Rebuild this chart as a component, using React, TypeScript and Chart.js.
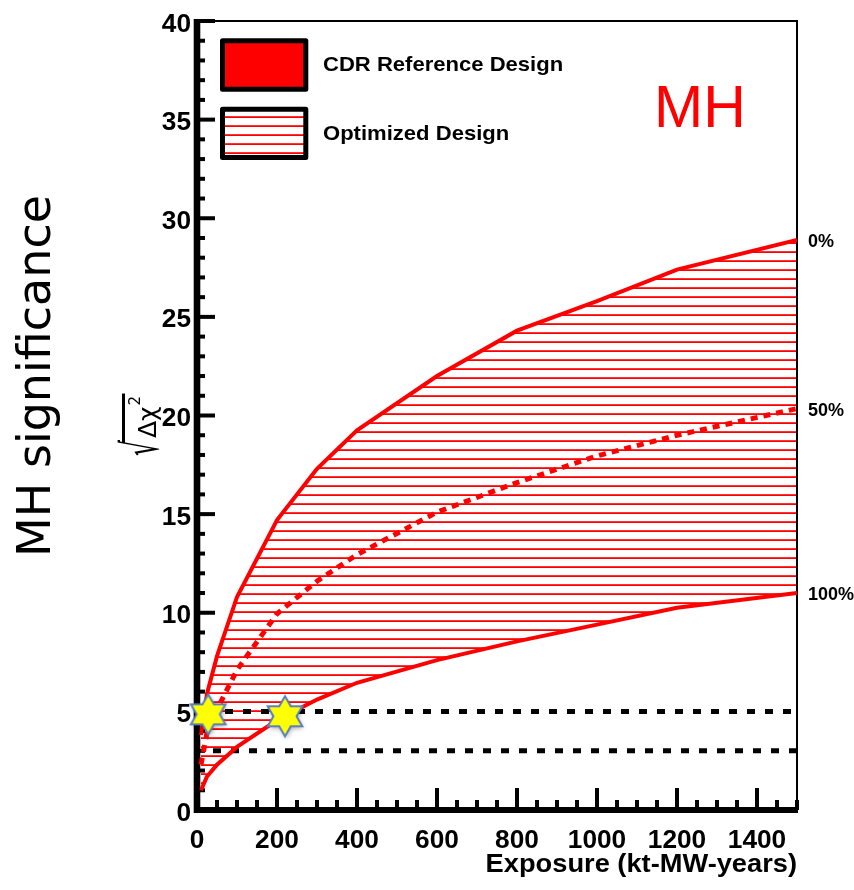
import React, { useEffect, useRef } from "react";
import { Chart, registerables } from "chart.js";

Chart.register(...registerables);

// ---- data ----
const exposure = [10, 25, 50, 100, 200, 300, 400, 600, 800, 1000, 1200, 1500];
const sig0 = [3.8, 5.9, 7.8, 10.8, 14.7, 17.3, 19.25, 22.0, 24.3, 25.8, 27.4, 28.9];
const sig50 = [2.3, 3.9, 5.1, 7.1, 9.95, 11.6, 12.95, 15.1, 16.6, 17.95, 19.0, 20.35];
const sig100 = [1.0, 1.7, 2.3, 3.2, 4.55, 5.6, 6.45, 7.6, 8.55, 9.4, 10.25, 11.0];
const curveLabels = ["0%", "50%", "100%"];

const refLevels = [5, 3];
const refStart = [25, 40];
const refEnd = [1500, 1500];

const starX = [28, 220];
const starY = [4.85, 4.75];

const xTicks = [0, 200, 400, 600, 800, 1000, 1200, 1400];
const yTicks = [0, 5, 10, 15, 20, 25, 30, 35, 40];
const legendLabels = ["CDR Reference Design", "Optimized Design"];

const RED = "#ff0000";

function makeHatch(): CanvasPattern {
  const c = document.createElement("canvas");
  c.width = 9;
  c.height = 9;
  const g = c.getContext("2d")!;
  g.fillStyle = RED;
  g.fillRect(0, 0, 9, 1);
  g.fillRect(0, 8, 9, 0.8);
  return g.createPattern(c, "repeat")!;
}

function makeStar(): HTMLCanvasElement {
  const c = document.createElement("canvas");
  c.width = 54;
  c.height = 54;
  const g = c.getContext("2d")!;
  const cx = 27, cy = 27, R = 20, r = R / Math.sqrt(3);
  g.beginPath();
  for (let i = 0; i < 12; i++) {
    const a = -Math.PI / 2 + (i * Math.PI) / 6;
    const rad = i % 2 === 0 ? R : r;
    const px = cx + rad * Math.cos(a);
    const py = cy + rad * Math.sin(a);
    if (i === 0) g.moveTo(px, py);
    else g.lineTo(px, py);
  }
  g.closePath();
  g.save();
  g.shadowColor = "rgba(0,0,0,0.35)";
  g.shadowBlur = 5;
  g.shadowOffsetX = 1;
  g.shadowOffsetY = 2;
  g.fillStyle = "#ffff00";
  g.fill();
  g.restore();
  g.lineWidth = 2;
  g.lineJoin = "miter";
  g.strokeStyle = "#5a7fbf";
  g.stroke();
  return c;
}

function txt(
  ctx: CanvasRenderingContext2D,
  s: string,
  x: number,
  y: number,
  font: string,
  align: CanvasTextAlign,
  color = "#000",
  sx = 1
) {
  ctx.save();
  ctx.translate(x, y);
  ctx.scale(sx, 1);
  ctx.font = font;
  ctx.textAlign = align;
  ctx.textBaseline = "alphabetic";
  ctx.fillStyle = color;
  ctx.fillText(s, 0, 0);
  ctx.restore();
}

export default function App() {
  const ref = useRef<HTMLCanvasElement>(null);

  useEffect(() => {
    const hatch = makeHatch();
    const star = makeStar();
    const BOLD = '"Liberation Sans", Arial, Helvetica, sans-serif';

    const decor = {
      id: "decor",
      beforeDatasetsDraw(chart: any) {
        const ctx: CanvasRenderingContext2D = chart.ctx;
        const xs = chart.scales.x;
        const ys = chart.scales.y;
        const x0 = xs.getPixelForValue(0);
        const x1 = xs.getPixelForValue(1500);
        const y0 = ys.getPixelForValue(0);
        const y1 = ys.getPixelForValue(40);
        ctx.save();
        // thin frame top/right
        ctx.strokeStyle = "#000";
        ctx.lineWidth = 2;
        ctx.beginPath();
        ctx.moveTo(x0, y1);
        ctx.lineTo(x1, y1);
        ctx.lineTo(x1, y0);
        ctx.stroke();
        ctx.fillStyle = "#000";
        // thick axes
        ctx.fillRect(x0 - 3.3, y1 - 2, 6.6, y0 - y1 + 5);
        ctx.fillRect(x0 - 3, y0 - 3, x1 - x0 + 4, 6);
        // y ticks
        for (let v = 1; v <= 40; v++) {
          const y = ys.getPixelForValue(v);
          const major = v % 5 === 0;
          ctx.fillRect(x0, y - 2, major ? 18 : 8, 4);
        }
        // x ticks
        for (let v = 50; v <= 1500; v += 50) {
          const x = xs.getPixelForValue(v);
          const major = v % 200 === 0;
          const len = major ? 22 : 10;
          ctx.fillRect(x - 2, y0 - len, 4, len);
        }
        // tick labels
        yTicks.forEach((v) => {
          txt(ctx, String(v), 191, ys.getPixelForValue(v) + 10.5, `bold 25px ${BOLD}`, "right", "#000", 1.05);
        });
        xTicks.forEach((v) => {
          txt(ctx, String(v), xs.getPixelForValue(v), 848, `bold 25px ${BOLD}`, "center", "#000", 1.05);
        });
        // x title
        txt(ctx, "Exposure (kt-MW-years)", 797, 872, `bold 25px ${BOLD}`, "right", "#000", 1.09);

        // right labels
        const ends = [sig0, sig50, sig100];
        ends.forEach((arr, i) => {
          const yy = ys.getPixelForValue(arr[arr.length - 1]);
          txt(ctx, curveLabels[i], 808, yy + 7, `bold 18px ${BOLD}`, "left");
        });

        // legend boxes
        ctx.lineJoin = "round";
        ctx.lineWidth = 5;
        ctx.fillStyle = RED;
        ctx.fillRect(222.5, 40.8, 83.3, 48.4);
        ctx.strokeStyle = "#000";
        ctx.strokeRect(222.5, 40.8, 83.3, 48.4);
        ctx.fillStyle = hatch;
        ctx.fillRect(222.5, 109.2, 83.3, 48.4);
        ctx.strokeRect(222.5, 109.2, 83.3, 48.4);
        txt(ctx, legendLabels[0], 323, 71, `bold 21px ${BOLD}`, "left", "#000", 1.05);
        txt(ctx, legendLabels[1], 323, 140, `bold 21px ${BOLD}`, "left", "#000", 1.05);

        // MH label
        txt(ctx, "MH", 654, 127, `59px ${BOLD}`, "left", RED);

        // y titles
        ctx.save();
        ctx.translate(50, 376);
        ctx.rotate(-Math.PI / 2);
        ctx.font = '46px "DejaVu Sans"';
        ctx.textAlign = "center";
        ctx.textBaseline = "alphabetic";
        ctx.fillStyle = "#000";
        ctx.fillText("MH significance", 0, 0);
        ctx.restore();

        ctx.save();
        ctx.translate(156, 456);
        ctx.rotate(-Math.PI / 2);
        ctx.fillStyle = "#000";
        ctx.textAlign = "left";
        ctx.textBaseline = "alphabetic";
        // radical sign, stretched tall
        ctx.save();
        ctx.scale(0.5, 1);
        ctx.font = '50px "DejaVu Sans"';
        ctx.fillText("√", 0, 2);
        const wr = ctx.measureText("√").width * 0.5;
        ctx.restore();
        ctx.font = '25px "DejaVu Sans"';
        ctx.fillText("Δχ", wr + 2, 0);
        const w2 = ctx.measureText("Δχ").width;
        ctx.font = '15px "DejaVu Sans"';
        ctx.fillText("2", wr + w2 + 3, -16);
        ctx.fillRect(wr - 3, -34, w2 + 18, 3);
        ctx.restore();

        ctx.restore();
      },
    };

    const pts = (ys: number[]) => exposure.map((x, i) => ({ x, y: ys[i] }));

    const chart = new Chart(ref.current!, {
      type: "line",
      data: {
        datasets: [
          {
            label: curveLabels[0],
            data: pts(sig0),
            borderColor: RED,
            borderWidth: 4,
            pointRadius: 0,
            tension: 0,
            fill: 2,
            backgroundColor: hatch,
          } as any,
          {
            label: curveLabels[1],
            data: pts(sig50),
            borderColor: RED,
            borderWidth: 5,
            borderDash: [7, 6],
            pointRadius: 0,
            tension: 0,
            fill: false,
          },
          {
            label: curveLabels[2],
            data: pts(sig100),
            borderColor: RED,
            borderWidth: 4,
            pointRadius: 0,
            tension: 0,
            fill: false,
          },
          ...refLevels.map((lv, i) => ({
            label: `${lv} sigma`,
            data: [
              { x: refStart[i], y: lv },
              { x: refEnd[i], y: lv },
            ],
            borderColor: "#000",
            borderWidth: 5,
            borderDash: [8, 10],
            borderCapStyle: "butt",
            pointRadius: 0,
            fill: false,
          })),
          {
            type: "scatter",
            label: "stars",
            data: starX.map((x, i) => ({ x, y: starY[i] })),
            pointStyle: star,
            pointRadius: 20,
            clip: false,
            order: -1,
          } as any,
        ],
      },
      options: {
        animation: false,
        responsive: false,
        events: [],
        layout: { padding: { left: 197, right: 57, top: 20, bottom: 80 } },
        scales: {
          x: { type: "linear", min: 0, max: 1500, display: false },
          y: { type: "linear", min: 0, max: 40, display: false },
        },
        plugins: {
          legend: { display: false },
          tooltip: { enabled: false },
          filler: { drawTime: "beforeDatasetsDraw" },
        } as any,
      },
      plugins: [decor],
    } as any);
    return () => chart.destroy();
  }, []);

  return (
    <div style={{ position: "absolute", left: 0, top: 0, width: 854, height: 890, background: "#fff" }}>
      <canvas ref={ref} width={854} height={890} style={{ display: "block", width: 854, height: 890 }} />
    </div>
  );
}
